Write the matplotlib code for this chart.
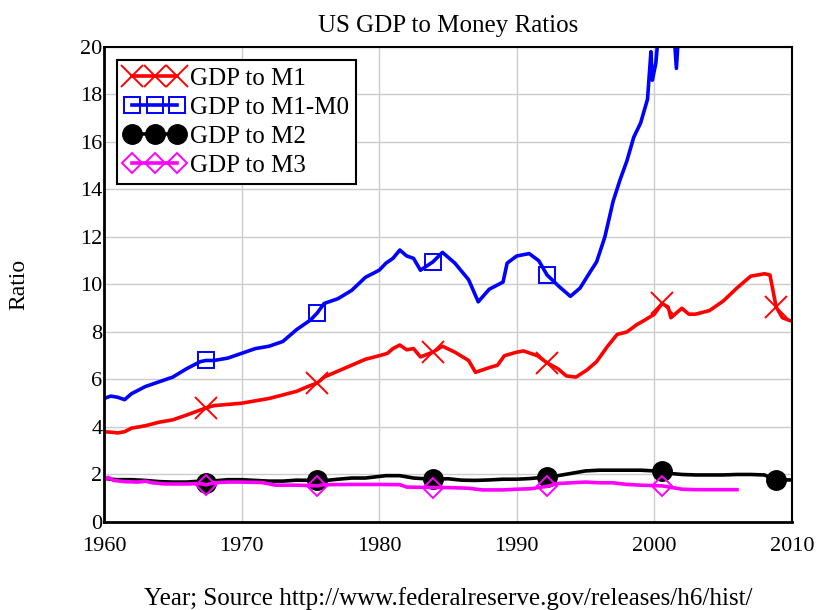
import numpy as np
import matplotlib
matplotlib.use('Agg')
import matplotlib.pyplot as plt

# data
m1_years = [1960.0, 1960.5, 1961.0, 1961.5, 1962.0, 1963.0, 1964.0, 1965.0, 1966.0, 1966.7,
            1967.4, 1968.0, 1969.0, 1970.0, 1971.0, 1972.0, 1973.0, 1974.0, 1974.8, 1975.5,
            1976.0, 1977.0, 1978.0, 1979.0, 1980.0, 1980.6, 1981.0, 1981.5, 1982.0, 1982.5,
            1983.0, 1983.9, 1984.6, 1985.5, 1986.5, 1987.0, 1988.0, 1988.6, 1989.1, 1990.0,
            1990.5, 1991.5, 1992.2, 1993.0, 1993.6, 1994.3, 1995.1, 1995.8, 1996.6, 1997.3,
            1998.0, 1998.7, 1999.3, 2000.0, 2000.55, 2001.0, 2001.2, 2002.0, 2002.5, 2003.0,
            2004.0, 2005.0, 2006.0, 2007.0, 2008.0, 2008.4, 2008.85, 2009.3, 2010.0]
m1_vals = [3.8, 3.78, 3.75, 3.8, 3.95, 4.05, 4.2, 4.3, 4.5, 4.65,
           4.8, 4.9, 4.95, 5.0, 5.1, 5.2, 5.35, 5.5, 5.7, 5.85,
           6.1, 6.35, 6.6, 6.85, 7.0, 7.1, 7.3, 7.45, 7.25, 7.3,
           6.95, 7.15, 7.4, 7.15, 6.8, 6.3, 6.5, 6.6, 7.0, 7.15,
           7.2, 7.0, 6.7, 6.45, 6.15, 6.1, 6.4, 6.75, 7.4, 7.9,
           8.0, 8.3, 8.5, 8.75, 9.2, 9.05, 8.6, 9.0, 8.75, 8.75,
           8.9, 9.3, 9.85, 10.35, 10.45, 10.4, 9.05, 8.6, 8.45]

m1m0_years = [1960.0, 1960.5, 1961.0, 1961.5, 1962.0, 1963.0, 1964.0, 1965.0, 1966.0, 1967.0,
              1967.4, 1968.0, 1969.0, 1970.0, 1971.0, 1972.0, 1973.0, 1974.0, 1975.0, 1975.5,
              1976.0, 1977.0, 1978.0, 1979.0, 1980.0, 1980.5, 1981.0, 1981.5, 1982.0, 1982.5,
              1983.0, 1983.9, 1984.6, 1985.5, 1986.5, 1987.2, 1988.0, 1989.0, 1989.3, 1990.0,
              1990.9, 1991.6, 1992.2, 1993.1, 1993.9, 1994.6, 1995.3, 1995.8, 1996.4, 1997.0,
              1997.5, 1998.0, 1998.5, 1999.0, 1999.5, 1999.75, 1999.85, 2000.1, 2000.3, 2000.55,
              2001.0, 2001.4, 2001.6, 2001.8, 2002.5]
m1m0_vals = [5.2, 5.3, 5.25, 5.15, 5.4, 5.7, 5.9, 6.1, 6.45, 6.75,
             6.8, 6.8, 6.9, 7.1, 7.3, 7.4, 7.6, 8.1, 8.5, 8.8,
             9.2, 9.4, 9.75, 10.3, 10.6, 10.9, 11.1, 11.45, 11.2, 11.1,
             10.6, 10.95, 11.35, 10.9, 10.2, 9.27, 9.8, 10.1, 10.9, 11.2,
             11.3, 11.0, 10.4, 9.9, 9.5, 9.85, 10.5, 10.95, 12.0, 13.5,
             14.4, 15.2, 16.2, 16.8, 17.8, 19.8, 18.6, 19.3, 20.6, 21.5,
             22.5, 20.8, 19.1, 21.0, 24.0]

m2_years = [1960.0, 1960.5, 1961.0, 1962.0, 1963.0, 1964.0, 1965.0, 1966.0, 1967.0, 1967.4,
            1968.0, 1969.0, 1970.0, 1971.0, 1972.0, 1973.0, 1974.0, 1975.5, 1976.0, 1977.0,
            1978.0, 1979.0, 1980.5, 1981.5, 1982.5, 1983.9, 1985.0, 1986.0, 1987.0, 1988.0,
            1989.0, 1990.0, 1991.0, 1992.2, 1993.0, 1994.0, 1995.0, 1996.0, 1997.0, 1998.0,
            1999.0, 2000.0, 2000.55, 2001.0, 2002.0, 2003.0, 2004.0, 2005.0, 2006.0, 2007.0,
            2008.0, 2008.85, 2009.5, 2010.0]
m2_vals = [1.85, 1.8, 1.78, 1.78, 1.75, 1.7, 1.68, 1.68, 1.72, 1.65,
           1.73, 1.78, 1.78, 1.75, 1.72, 1.72, 1.76, 1.75, 1.74, 1.8,
           1.85, 1.85, 1.95, 1.95, 1.85, 1.8, 1.82, 1.76, 1.75, 1.77,
           1.8, 1.8, 1.83, 1.9, 1.95, 2.05, 2.15, 2.18, 2.18, 2.18,
           2.18, 2.15, 2.13, 2.05, 2.0, 1.98, 1.98, 1.98, 2.0, 2.0,
           1.98, 1.75, 1.77, 1.77]

m3_years = [1960.0, 1960.3, 1960.7, 1961.5, 1962.5, 1963.0, 1963.5, 1964.5, 1966.0, 1967.0,
            1967.4, 1968.0, 1969.0, 1970.0, 1971.5, 1972.5, 1974.0, 1975.5, 1976.0, 1978.0,
            1980.0, 1981.5, 1982.0, 1983.9, 1985.0, 1986.5, 1987.5, 1989.0, 1990.0, 1991.0,
            1992.2, 1993.0, 1994.0, 1995.0, 1996.0, 1997.0, 1998.0, 1999.0, 2000.55, 2001.0,
            2002.0, 2003.0, 2004.0, 2005.0, 2006.0]
m3_vals = [1.75, 1.88, 1.75, 1.7, 1.68, 1.72, 1.65, 1.6, 1.6, 1.62,
           1.56, 1.65, 1.68, 1.68, 1.66, 1.55, 1.55, 1.52, 1.57, 1.58,
           1.58, 1.57, 1.47, 1.45, 1.45, 1.42, 1.35, 1.35, 1.38, 1.4,
           1.5, 1.62, 1.65, 1.68, 1.65, 1.65, 1.58, 1.55, 1.52, 1.48,
           1.38, 1.36, 1.36, 1.36, 1.36]

mark_years = [1967.4, 1975.5, 1983.9, 1992.2, 2000.55, 2008.85]
labels = ['GDP to M1', 'GDP to M1-M0', 'GDP to M2', 'GDP to M3']
x_ticks = [1960, 1970, 1980, 1990, 2000, 2010]
y_ticks = [0, 2, 4, 6, 8, 10, 12, 14, 16, 18, 20]


def mark_index(years):
    return [i for i, y in enumerate(years) if any(np.isclose(y, m) for m in mark_years)]


plt.rcParams['font.family'] = ['Liberation Serif', 'DejaVu Serif']
plt.rcParams['font.size'] = 16

fig = plt.figure(figsize=(8.25, 6.1), dpi=100)
ax = fig.add_axes((0.126, 0.1443, 0.834, 0.7787))

ax.plot(m1_years, m1_vals, color='#ff0000', lw=2.6, marker='x', ms=16, mew=1.4,
        markevery=mark_index(m1_years), label=labels[0])
ax.plot(m1m0_years, m1m0_vals, color='#0000ff', lw=2.6, marker='s', ms=11, mew=1.4,
        mfc='none', markevery=mark_index(m1m0_years), label=labels[1])
ax.plot(m2_years, m2_vals, color='black', lw=2.6, marker='o', ms=14,
        markevery=mark_index(m2_years), label=labels[2])
ax.plot(m3_years, m3_vals, color='#ff00ff', lw=2.6, marker='D', ms=10, mew=1.4,
        mfc='none', markevery=mark_index(m3_years), label=labels[3])

ax.set_xlim(1960, 2010)
ax.set_ylim(0, 20)
ax.set_xticks(x_ticks)
ax.set_yticks(y_ticks)
ax.tick_params(length=0)
ax.tick_params(axis='x', pad=11)
ax.tick_params(axis='y', pad=1)
ax.grid(True, color='#cccccc', lw=1)
ax.set_axisbelow(True)

for side in ['top', 'right']:
    ax.spines[side].set_linewidth(1.5)
for side in ['left', 'bottom']:
    ax.spines[side].set_linewidth(2)

ax.set_title('US GDP to Money Ratios', fontsize=18, pad=11)
ax.set_xlabel('Year; Source http://www.federalreserve.gov/releases/h6/hist/',
              fontsize=18, labelpad=22)
ax.set_ylabel('Ratio', fontsize=17, labelpad=37)

leg = ax.legend(loc='upper left', bbox_to_anchor=(0.019, 0.973), borderaxespad=0,
                numpoints=3, fontsize=18, handlelength=2.4, handletextpad=0.2,
                labelspacing=0.26, borderpad=0.3, fancybox=False, framealpha=1,
                edgecolor='black')
leg.get_frame().set_linewidth(1.5)

fig.savefig('out.png', dpi=100)
